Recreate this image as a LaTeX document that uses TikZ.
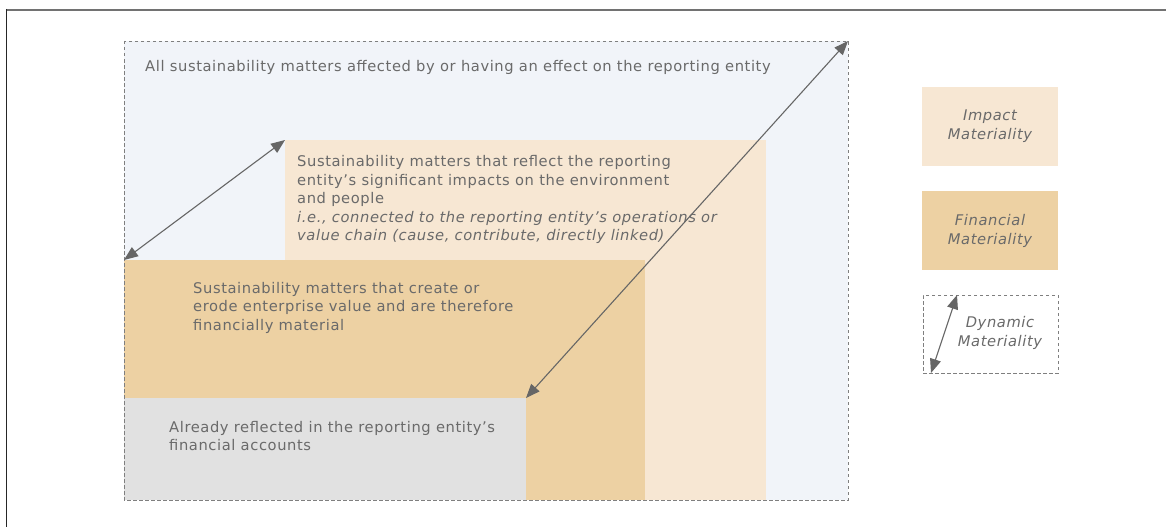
\documentclass[tikz,border=0pt]{standalone}
\usepackage{fontspec}
\setmainfont{DejaVu Sans}[LetterSpace=4]
\usetikzlibrary{arrows.meta}
\definecolor{outerfill}{HTML}{F1F4F9}
\definecolor{impfill}{HTML}{F7E7D3}
\definecolor{finfill}{HTML}{EDD1A3}
\definecolor{grayfill}{HTML}{E1E1E1}
\definecolor{txt}{HTML}{6A6A6A}
\definecolor{arr}{HTML}{666666}
\definecolor{dashc}{HTML}{7F7F7F}
\begin{document}
\begin{tikzpicture}[x=1pt,y=-1pt,
  area/.style={draw=none,inner sep=0pt,outer sep=0pt,anchor=north west},
  dashbox/.style={draw=dashc,line width=0.9pt,dash pattern=on 3.5pt off 2.5pt},
  txtnode/.style={inner sep=0pt,anchor=north west,align=left,text=txt,font=\fontsize{14.7}{18.4}\selectfont},
  legtxt/.style={inner sep=0pt,align=center,text=txt,font=\fontsize{14.7}{19}\selectfont\itshape},
  dblarrow/.style={draw=arr,line width=1.1pt,{Triangle[length=14pt,width=11pt]}-{Triangle[length=14pt,width=11pt]}}
]
\useasboundingbox (0,0) rectangle (1166,527);
% frame
\draw[draw=dashc!90!black,line width=1.8pt] (6,9.7) -- (1166,9.7);
\draw[draw=black!85,line width=1.2pt] (6.5,9) -- (6.5,527);
% areas
\node[area,fill=outerfill,minimum width=724pt,minimum height=459pt] (outer) at (124,41) {};
\node[area,fill=impfill,minimum width=481pt,minimum height=360pt] (imp) at (285,140) {};
\node[area,fill=finfill,minimum width=521pt,minimum height=240pt] (fin) at (124,260) {};
\node[area,fill=grayfill,minimum width=402pt,minimum height=102pt] (gry) at (124,398) {};
\draw[dashbox] (outer.north west) rectangle (outer.south east);
% texts
\node[txtnode] (toptxt) at (145,60.5) {All sustainability matters affected by or having an effect on the reporting entity};
\node[txtnode] (imptxt) at (297,155.5) {Sustainability matters that reflect the reporting\\entity’s significant impacts on the environment\\and people\\\textit{i.e., connected to the reporting entity’s operations or}\\\textit{value chain (cause, contribute, directly linked)}};
\node[txtnode] (fintxt) at (193,282) {Sustainability matters that create or\\erode enterprise value and are therefore\\financially material};
\node[txtnode] (grytxt) at (169,421) {Already reflected in the reporting entity’s\\financial accounts};
% arrows
\draw[dblarrow] (fin.north west) -- (imp.north west);
\draw[dblarrow] (gry.north east) -- (outer.north east);
% legend
\node[area,fill=impfill,minimum width=136pt,minimum height=79pt] (limp) at (922,87) {};
\node[legtxt] (limptxt) at (limp.center) {Impact\\Materiality};
\node[area,fill=finfill,minimum width=136pt,minimum height=79pt] (lfin) at (922,191) {};
\node[legtxt] (lfintxt) at (lfin.center) {Financial\\Materiality};
\node[area,dashbox,minimum width=135pt,minimum height=78pt] (ldyn) at (923,295) {};
\node[legtxt] (ldyntxt) at (1000,333) {Dynamic\\Materiality};
\coordinate (da) at ([xshift=8pt]ldyn.south west);
\coordinate (db) at ([xshift=34pt]ldyn.north west);
\draw[dblarrow] (da) -- (db);
\end{tikzpicture}
\end{document}
